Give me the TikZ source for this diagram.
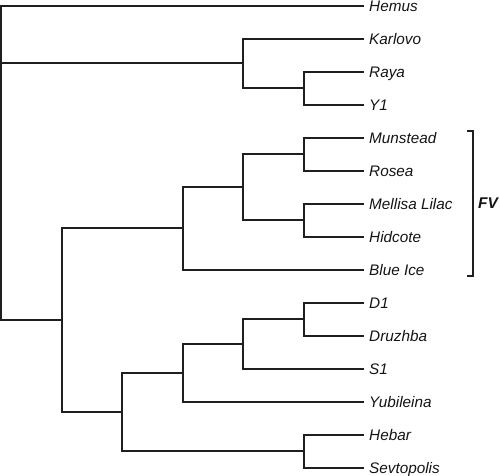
\documentclass[tikz,border=0pt]{standalone}
\usepackage{fontspec}
\setmainfont{Liberation Sans}
\begin{document}
\begin{tikzpicture}[x=1pt,y=-1pt,
  branch/.style={line width=1.6pt,color=black!88,line cap=rect},
  leaflabel/.style={anchor=base west,inner sep=0pt,font=\fontsize{15.3}{18}\selectfont\itshape,text=black!92},
  grouplabel/.style={anchor=west,inner sep=0pt,font=\fontsize{15.5}{18}\selectfont\bfseries\itshape,text=black!92}]
\useasboundingbox (0,0) rectangle (500,475);
% leaf tips
\foreach \n/\t [count=\i from 0] in {hemus/Hemus,karlovo/Karlovo,raya/Raya,yone/Y1,munstead/Munstead,rosea/Rosea,mellisa/Mellisa Lilac,hidcote/Hidcote,blueice/Blue Ice,done/D1,druzhba/Druzhba,sone/S1,yubileina/Yubileina,hebar/Hebar,sevtopolis/Sevtopolis}{
  \coordinate (\n) at (363,{6+33*\i});
  \node[leaflabel] (\n-lab) at (369,{11+33*\i}) {\t};
}
% internal nodes
\coordinate (ry) at (304,88);
\coordinate (k) at (243,63);
\coordinate (mr) at (304,154);
\coordinate (mh) at (304,220);
\coordinate (ftwo) at (243,187);
\coordinate (fone) at (183,228);
\coordinate (dd) at (304,319);
\coordinate (ds) at (243,344);
\coordinate (dy) at (183,373);
\coordinate (hs) at (304,451);
\coordinate (b) at (122,412);
\coordinate (a) at (62,320);
\coordinate (root) at (1,160);
% branches
\draw[branch] (raya) -| (ry) |- (yone);
\draw[branch] (karlovo) -| (k) |- (ry);
\draw[branch] (munstead) -| (mr) |- (rosea);
\draw[branch] (mellisa) -| (mh) |- (hidcote);
\draw[branch] (mr) -| (ftwo) |- (mh);
\draw[branch] (ftwo) -| (fone) |- (blueice);
\draw[branch] (done) -| (dd) |- (druzhba);
\draw[branch] (dd) -| (ds) |- (sone);
\draw[branch] (ds) -| (dy) |- (yubileina);
\draw[branch] (hebar) -| (hs) |- (sevtopolis);
\draw[branch] (dy) -| (b) |- (hs);
\draw[branch] (fone) -| (a) |- (b);
\draw[branch] (hemus) -| (root) |- (a);
\draw[branch] (root |- k) -- (k);
% FV bracket
\coordinate (fvtop) at (467,131);
\coordinate (fvbot) at (467,276);
\draw[branch,line cap=butt] (fvtop) -- ++(6,0) |- (fvbot);
\node[grouplabel] (fv) at (478,203) {FV};
\end{tikzpicture}
\end{document}
